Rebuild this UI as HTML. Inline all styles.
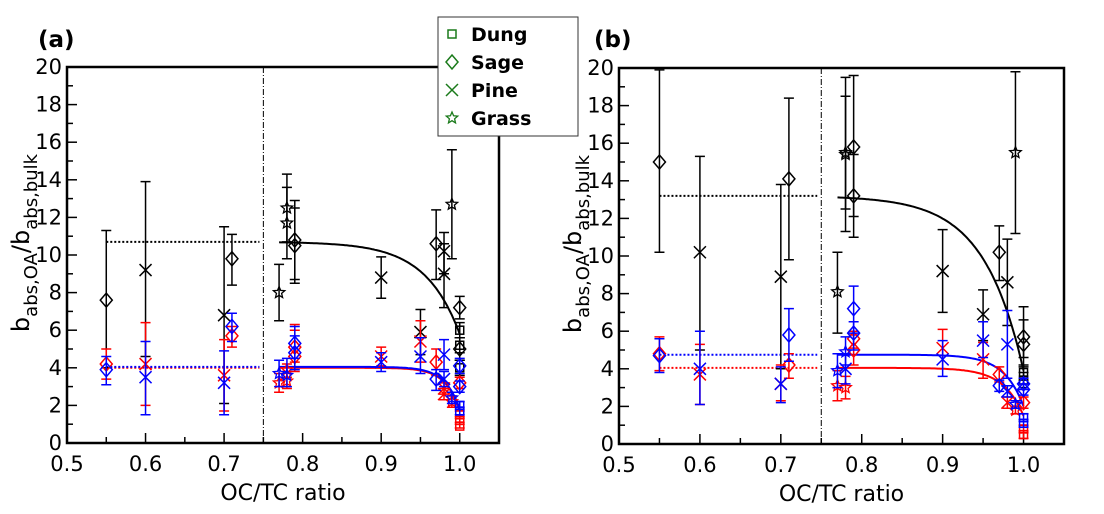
<!DOCTYPE html>
<html><head><meta charset="utf-8"><style>
html,body{margin:0;padding:0;background:#fff;}
svg{display:block;font-family:"DejaVu Sans","Liberation Sans",sans-serif;}
</style></head><body>
<svg id="chart" width="1104" height="514" viewBox="0 0 1104 514" xmlns="http://www.w3.org/2000/svg">
<g id="layer"></g>
</svg>
<script>
// Panel A data: [x, y, errLow, errHigh, marker]
const aBlack=[[0.55,7.6,4.0,11.3,'D'],[0.6,9.2,4.6,13.9,'X'],[0.7,6.8,2.1,11.5,'X'],[0.71,9.8,8.4,11.1,'D'],[0.77,8.0,6.5,9.5,'S'],[0.78,12.5,10.7,14.3,'S'],[0.78,11.7,9.8,13.6,'S'],[0.79,10.8,8.7,12.9,'D'],[0.79,10.5,8.5,12.5,'D'],[0.9,8.8,7.7,9.9,'X'],[0.95,5.9,4.7,7.1,'X'],[0.97,10.6,8.7,12.4,'D'],[0.98,10.2,9.0,11.2,'X'],[0.98,9.0,7.2,10.6,'X'],[0.99,12.7,9.8,15.6,'S'],[1.0,7.2,6.6,7.8,'D'],[1.0,5.0,4.4,5.6,'D'],[1.0,6.0,5.6,6.4,'Q'],[1.0,5.2,4.8,5.6,'Q'],[1.0,4.0,3.6,4.4,'Q']];
const aRed=[[0.55,4.2,3.4,5.0,'D'],[0.6,4.2,2.0,6.4,'X'],[0.7,3.6,1.7,5.5,'X'],[0.71,5.7,5.1,6.2,'D'],[0.77,3.2,2.7,3.7,'S'],[0.78,3.3,2.9,3.8,'S'],[0.78,3.9,3.5,4.2,'S'],[0.79,4.6,3.8,6.3,'D'],[0.79,5.1,4.3,6.0,'D'],[0.9,4.6,4.1,5.1,'X'],[0.95,5.4,4.3,6.5,'X'],[0.97,4.3,3.6,5.0,'D'],[0.98,2.9,2.6,3.2,'X'],[0.98,2.6,2.3,2.9,'X'],[0.99,2.2,1.9,2.5,'S'],[1.0,3.2,2.9,3.5,'D'],[1.0,1.5,1.3,1.7,'Q'],[1.0,1.2,1.0,1.4,'Q'],[1.0,0.9,0.8,1.1,'Q']];
const aBlue=[[0.55,3.9,3.1,4.6,'D'],[0.6,3.5,1.5,5.4,'X'],[0.7,3.2,1.5,4.9,'X'],[0.71,6.2,5.4,6.9,'D'],[0.77,3.7,3.0,4.4,'S'],[0.78,3.6,3.0,4.5,'S'],[0.79,5.3,4.5,6.2,'D'],[0.79,4.8,3.9,5.7,'D'],[0.9,4.3,3.8,4.8,'X'],[0.95,4.6,3.7,5.6,'X'],[0.97,3.4,2.8,3.9,'D'],[0.98,4.7,3.9,5.5,'X'],[0.98,3.4,3.0,3.8,'X'],[0.99,2.4,2.1,2.7,'S'],[1.0,4.1,3.7,4.5,'D'],[1.0,3.0,2.7,3.3,'D'],[1.0,2.0,1.8,2.2,'Q'],[1.0,1.7,1.5,1.9,'Q']];
// Panel B data
const bBlack=[[0.55,15.0,10.2,19.9,'D'],[0.6,10.2,5.0,15.3,'X'],[0.7,8.9,4.0,13.8,'X'],[0.71,14.1,9.8,18.4,'D'],[0.77,8.1,5.9,10.2,'S'],[0.78,15.5,11.3,19.5,'S'],[0.78,15.4,12.5,18.5,'S'],[0.79,15.8,11.0,19.6,'D'],[0.79,13.2,12.1,15.4,'D'],[0.9,9.2,7.0,11.4,'X'],[0.95,6.9,5.5,8.2,'X'],[0.97,10.2,8.7,11.6,'D'],[0.98,8.6,6.3,10.9,'X'],[0.99,15.5,11.2,19.8,'S'],[1.0,5.7,4.1,7.3,'D'],[1.0,5.3,4.6,6.6,'D'],[1.0,3.8,3.4,4.2,'Q'],[1.0,3.4,3.0,3.8,'Q']];
const bRed=[[0.55,4.8,3.9,5.7,'D'],[0.6,3.7,2.1,5.3,'X'],[0.7,3.2,2.3,4.2,'X'],[0.71,4.2,3.5,4.8,'D'],[0.77,3.1,2.3,3.9,'S'],[0.78,3.0,2.4,3.6,'S'],[0.79,5.6,5.1,6.0,'D'],[0.79,5.0,4.2,5.8,'D'],[0.9,5.1,4.0,6.1,'X'],[0.95,4.5,3.5,5.4,'X'],[0.97,3.7,3.3,4.1,'D'],[0.98,2.2,1.9,2.5,'X'],[0.99,1.8,1.6,2.0,'S'],[1.0,2.2,1.9,2.5,'D'],[1.0,0.8,0.6,1.0,'Q'],[1.0,0.5,0.3,0.7,'Q']];
const bBlue=[[0.55,4.7,3.8,5.6,'D'],[0.6,4.0,2.1,6.0,'X'],[0.7,3.2,2.2,4.1,'X'],[0.71,5.8,4.4,7.2,'D'],[0.77,3.9,3.0,4.8,'S'],[0.78,4.9,4.2,5.7,'S'],[0.78,4.0,3.2,4.8,'X'],[0.79,7.2,5.9,8.4,'D'],[0.79,5.9,5.0,6.5,'D'],[0.9,4.5,3.6,5.5,'X'],[0.95,5.5,4.6,6.5,'X'],[0.97,3.1,2.8,3.4,'D'],[0.98,5.3,3.5,7.1,'X'],[0.98,2.8,2.5,3.1,'X'],[0.99,2.1,1.9,2.3,'S'],[1.0,3.2,2.9,3.5,'D'],[1.0,2.9,2.6,3.2,'D'],[1.0,1.4,1.2,1.6,'Q'],[1.0,1.1,0.9,1.3,'Q']];
// fit params [plateau, drop, scale]
const aFits={black:[10.7,4.9,0.044],blue:[4.05,2.25,0.0185],red:[4.0,2.3,0.018]};
const bFits={black:[13.2,9.3,0.049],blue:[4.75,2.75,0.024],red:[4.05,2.55,0.025]};
const xTicks=[0.5,0.6,0.7,0.8,0.9,1.0];
const xTickLabels=['0.5','0.6','0.7','0.8','0.9','1.0'];
const yTicks=[0,2,4,6,8,10,12,14,16,18,20];

const NS='http://www.w3.org/2000/svg';
const layer=document.getElementById('layer');
function mk(tag,attrs,parent,text){const e=document.createElementNS(NS,tag);for(const k in attrs)e.setAttribute(k,attrs[k]);if(text!==undefined)e.textContent=text;(parent||layer).appendChild(e);return e;}
const COL={black:'#000',red:'#ff0000',blue:'#0000ff'};

function panel(id,L,R,T,B,sets,fits,label,labelX){
  const xs=v=>L+(v-0.5)/0.55*(R-L);
  const ys=v=>B-v/20*(B-T);
  const g=mk('g',{});
  
  
  for(let v=0.5;v<=1.0501;v+=0.05){const x=xs(v);const maj=Math.abs(Math.round(v*10)-v*10)<0.01;
    const t=mk('line',{x1:x,x2:x,y1:B,y2:B-(maj?10:6),stroke:'#000','stroke-width':1.5},g);
    }
  xTicks.forEach((v,i)=>{const t=mk('text',{x:xs(v),y:B+28,'text-anchor':'middle','font-size':21},g,xTickLabels[i]);
    });
  for(let v=0;v<=20;v+=1){const y=ys(v);const maj=v%2===0;
    const t=mk('line',{x1:L,x2:L+(maj?10:6),y1:y,y2:y,stroke:'#000','stroke-width':1.5},g);
    }
  yTicks.forEach(v=>{const t=mk('text',{x:L-5,y:ys(v)+7,'text-anchor':'end','font-size':21},g,String(v));
    });
  const xt=mk('text',{x:(L+R)/2,y:B+57,'text-anchor':'middle','font-size':22},g,'OC/TC ratio');
  
  const cy=(T+B)/2-12;
  const yt=mk('text',{x:0,y:0,'font-size':24,transform:`translate(${L-38},${cy}) rotate(-90)`,'text-anchor':'middle'},g);
  
  mk('tspan',{},yt,'b');mk('tspan',{'font-size':18,dy:8},yt,'abs,OA');mk('tspan',{dy:-8},yt,'/b');mk('tspan',{'font-size':18,dy:8},yt,'abs,bulk');
  const pl=mk('text',{x:labelX,y:47,'font-size':23,'font-weight':'bold'},g,label);
  
  const vl=mk('line',{x1:xs(0.75),x2:xs(0.75),y1:T,y2:B,stroke:'#000','stroke-width':1,'stroke-dasharray':'6,2,1,2'},g);
  
  ['black','red','blue'].forEach(c=>{
    const f=fits[c];
    const d=mk('line',{x1:xs(0.55),x2:xs(0.745),y1:ys(f[0]),y2:ys(f[0]),stroke:COL[c],'stroke-width':2,'stroke-dasharray':'2,2'},g);
    
    let p='';for(let x=0.77;x<=1.0001;x+=0.002){const y=f[0]-f[1]*Math.exp((x-1)/f[2]);p+=(p?'L':'M')+xs(x).toFixed(1)+','+ys(y).toFixed(1);}
    const fp=mk('path',{d:p,fill:'none',stroke:COL[c],'stroke-width':2},g);
    
  });
  sets.forEach(([c,arr])=>{
    arr.forEach(pt=>{
      const [x,y,lo,hi,m]=pt;const px=xs(x),py=ys(y),pl2=ys(lo),ph=ys(hi);
      const eb=mk('path',{d:`M${px},${pl2}L${px},${ph}M${px-5},${pl2}L${px+5},${pl2}M${px-5},${ph}L${px+5},${ph}`,stroke:COL[c],'stroke-width':1.5,fill:'none'},g);
      
      const mm=marker(m,px,py,COL[c],g);
      
    });
  });
  const fr=mk('rect',{x:L,y:T,width:R-L,height:B-T,fill:'none',stroke:'#000','stroke-width':2.5},g);
  
}
function star(px,py,r){let p='';for(let i=0;i<10;i++){const a=-Math.PI/2+i*Math.PI/5;const rr=i%2?r*0.45:r;p+=(i?'L':'M')+(px+rr*Math.cos(a)).toFixed(1)+','+(py+rr*Math.sin(a)).toFixed(1);}return p+'Z';}
function marker(m,px,py,col,g){
  if(m==='D')return mk('path',{d:`M${px},${py-7}L${px+6},${py}L${px},${py+7}L${px-6},${py}Z`,fill:'none',stroke:col,'stroke-width':1.5},g);
  if(m==='X')return mk('path',{d:`M${px-6},${py-6}L${px+6},${py+6}M${px-6},${py+6}L${px+6},${py-6}`,stroke:col,'stroke-width':1.5},g);
  if(m==='S')return mk('path',{d:star(px,py,6),fill:'none',stroke:col,'stroke-width':1.3},g);
  return mk('rect',{x:px-4,y:py-4,width:8,height:8,fill:'none',stroke:col,'stroke-width':1.5},g);
}
panel('a',67,499,67,443,[['black',aBlack],['red',aRed],['blue',aBlue]],aFits,'(a)',38);
panel('b',619,1064,68,444,[['black',bBlack],['red',bRed],['blue',bBlue]],bFits,'(b)',594);
const lg=mk('g',{});


mk('rect',{x:438,y:17,width:140,height:119,fill:'#fff',stroke:'#333','stroke-width':1},lg);
const legNames=['Dung','Sage','Pine','Grass'];const legM=['Q','D','X','S'];
legNames.forEach((n,i)=>{const y=34+i*28;
  const e=mk('g',{},lg);
  
  
  marker(legM[i],452,y,'#1a7a1a',e);
  mk('text',{x:471,y:y+7,'font-size':19,'font-weight':'bold'},e,n);});
</script>
</body></html>
